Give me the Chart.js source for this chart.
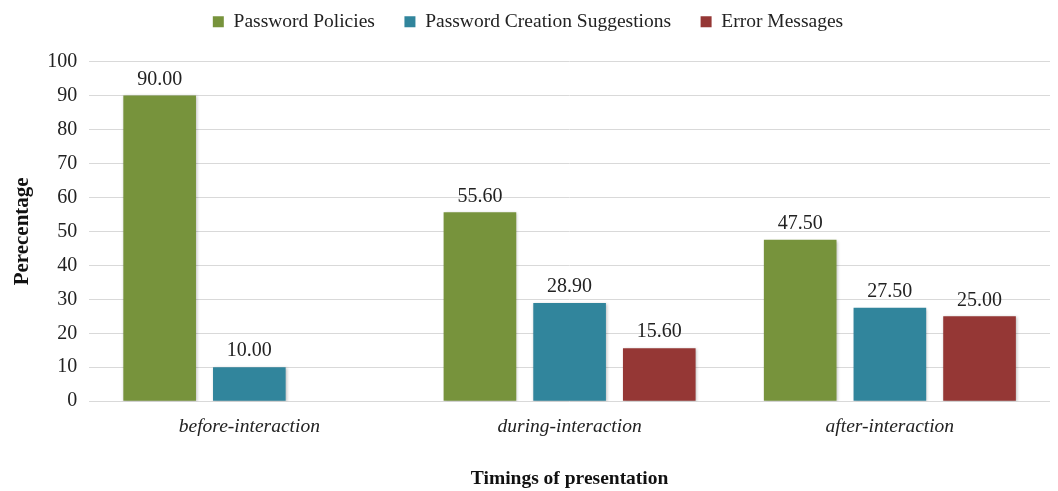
<!DOCTYPE html>
<html>
<head>
<meta charset="utf-8">
<script src="https://cdn.jsdelivr.net/npm/chart.js@4/dist/chart.umd.min.js"></script>
<style>
  html, body { margin: 0; padding: 0; background: #fff; }
  #wrap { width: 1058px; height: 491px; }
</style>
</head>
<body>
<div id="wrap"><canvas id="chart"></canvas></div>
<script>
const categories = ['before-interaction', 'during-interaction', 'after-interaction'];
const passwordPolicies = [90.00, 55.60, 47.50];
const creationSuggestions = [10.00, 28.90, 27.50];
const errorMessages = [null, 15.60, 25.00];

const serif = '"Liberation Serif", "DejaVu Serif", serif';

// draws the value above every bar
const valueLabels = {
  id: 'valueLabels',
  afterDatasetsDraw(chart) {
    const ctx = chart.ctx;
    ctx.save();
    ctx.font = '20px ' + serif;
    ctx.fillStyle = '#222';
    ctx.textAlign = 'center';
    ctx.textBaseline = 'bottom';
    chart.data.datasets.forEach((ds, i) => {
      chart.getDatasetMeta(i).data.forEach((bar, j) => {
        const v = ds.data[j];
        if (v === null || v === undefined) return;
        ctx.fillText(v.toFixed(2), bar.x, bar.y - 6);
      });
    });
    ctx.restore();
  }
};

// soft shadow under bars
const barShadow = {
  id: 'barShadow',
  beforeDatasetsDraw(chart) {
    const ctx = chart.ctx;
    ctx.save();
    ctx.shadowColor = 'rgba(0,0,0,0.25)';
    ctx.shadowBlur = 3;
    ctx.shadowOffsetX = 1;
    ctx.shadowOffsetY = 1;
  },
  afterDatasetsDraw(chart) {
    chart.ctx.restore();
  }
};

// more room between legend and plot
const legendGap = {
  id: 'legendGap',
  beforeInit(chart) {
    const fit = chart.legend.fit;
    chart.legend.fit = function () {
      fit.bind(chart.legend)();
      this.height += 20;
    };
  }
};

new Chart(document.getElementById('chart'), {
  type: 'bar',
  data: {
    labels: categories,
    datasets: [
      { label: 'Password Policies', data: passwordPolicies, backgroundColor: '#77933C' },
      { label: 'Password Creation Suggestions', data: creationSuggestions, backgroundColor: '#31859C' },
      { label: 'Error Messages', data: errorMessages, backgroundColor: '#953735' }
    ]
  },
  options: {
    responsive: true,
    maintainAspectRatio: false,
    animation: false,
    layout: { padding: { left: 6, right: 8, top: 2, bottom: 0 } },
    datasets: {
      bar: { categoryPercentage: 0.84, barPercentage: 0.81 }
    },
    plugins: {
      legend: {
        position: 'top',
        labels: {
          font: { family: serif, size: 19.5 },
          color: '#222',
          boxWidth: 11,
          boxHeight: 11,
          padding: 10,
          // widen the gap between items without pushing the legend down
          generateLabels(chart) {
            const items = Chart.defaults.plugins.legend.labels.generateLabels(chart);
            items.forEach((it, i) => {
              if (i < items.length - 1) it.text += '    ';
            });
            return items;
          }
        }
      },
      tooltip: { enabled: false }
    },
    scales: {
      x: {
        grid: { display: false },
        border: { display: false },
        ticks: {
          font: { family: serif, size: 19.5, style: 'italic' },
          color: '#222',
          padding: 6
        },
        title: {
          display: true,
          text: 'Timings of presentation',
          font: { family: serif, size: 19.5, weight: 'bold' },
          color: '#111',
          padding: { top: 23, bottom: 0 }
        }
      },
      y: {
        min: 0,
        max: 100,
        ticks: {
          stepSize: 10,
          font: { family: serif, size: 20 },
          color: '#222',
          padding: 12
        },
        grid: { color: '#d9d9d9', drawTicks: false },
        border: { display: false },
        title: {
          display: true,
          text: 'Perecentage',
          font: { family: serif, size: 21, weight: 'bold' },
          color: '#111',
          padding: { bottom: 0 }
        }
      }
    }
  },
  plugins: [legendGap, barShadow, valueLabels]
});
</script>
</body>
</html>
